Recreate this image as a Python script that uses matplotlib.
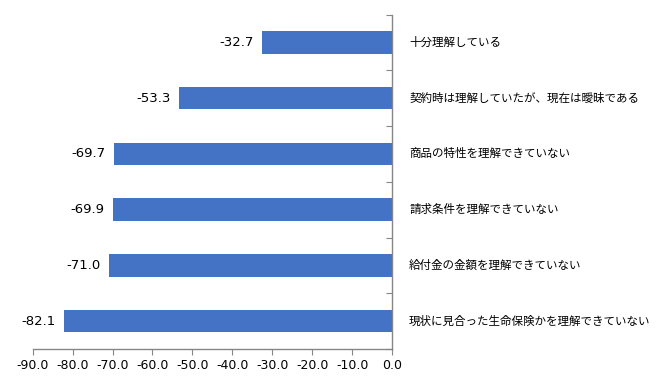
import matplotlib.pyplot as plt
import numpy as np

categories = [
    "十分理解している",
    "契約時は理解していたが、現在は曖昧である",
    "商品の特性を理解できていない",
    "請求条件を理解できていない",
    "給付金の金額を理解できていない",
    "現状に見合った生命保険かを理解できていない",
]
values = [-32.7, -53.3, -69.7, -69.9, -71.0, -82.1]
xticks = np.arange(-90, 1, 10)

plt.rcParams['font.family'] = ['Noto Sans CJK JP', 'DejaVu Sans']

fig = plt.figure(figsize=(6.64, 3.85), dpi=100)
ax = fig.add_axes([32.5 / 664, 36 / 385, 360 / 664, 334.5 / 385])

pos = np.arange(len(categories))
ax.barh(pos, values, height=0.4, color="#4472C4", zorder=2)

ax.set_xlim(-90, 0)
ax.set_ylim(len(categories) - 0.5, -0.5)

for p, v, c in zip(pos, values, categories):
    ax.annotate(f"{v:.1f}", (v, p), xytext=(-6, 0), textcoords="offset points",
                ha="right", va="center", fontsize=9.5, family="DejaVu Sans")
    ax.annotate(c, (0, p), xytext=(12, 0), textcoords="offset points",
                ha="left", va="center", fontsize=8.3, annotation_clip=False)

for s in ["top", "left"]:
    ax.spines[s].set_visible(False)
for s in ["right", "bottom"]:
    ax.spines[s].set_color("#868686")
    ax.spines[s].set_linewidth(1)

ax.set_xticks(xticks)
ax.set_xticklabels([f"{t:.1f}" for t in xticks], fontsize=9, family="DejaVu Sans")
ax.tick_params(axis="x", direction="out", length=4, color="#868686", pad=3)

ax.yaxis.tick_right()
ax.set_yticks(np.arange(-0.5, len(categories), 1))
ax.set_yticklabels([])
ax.tick_params(axis="y", direction="in", length=4, color="#868686")

fig.savefig("out.png", dpi=100)
